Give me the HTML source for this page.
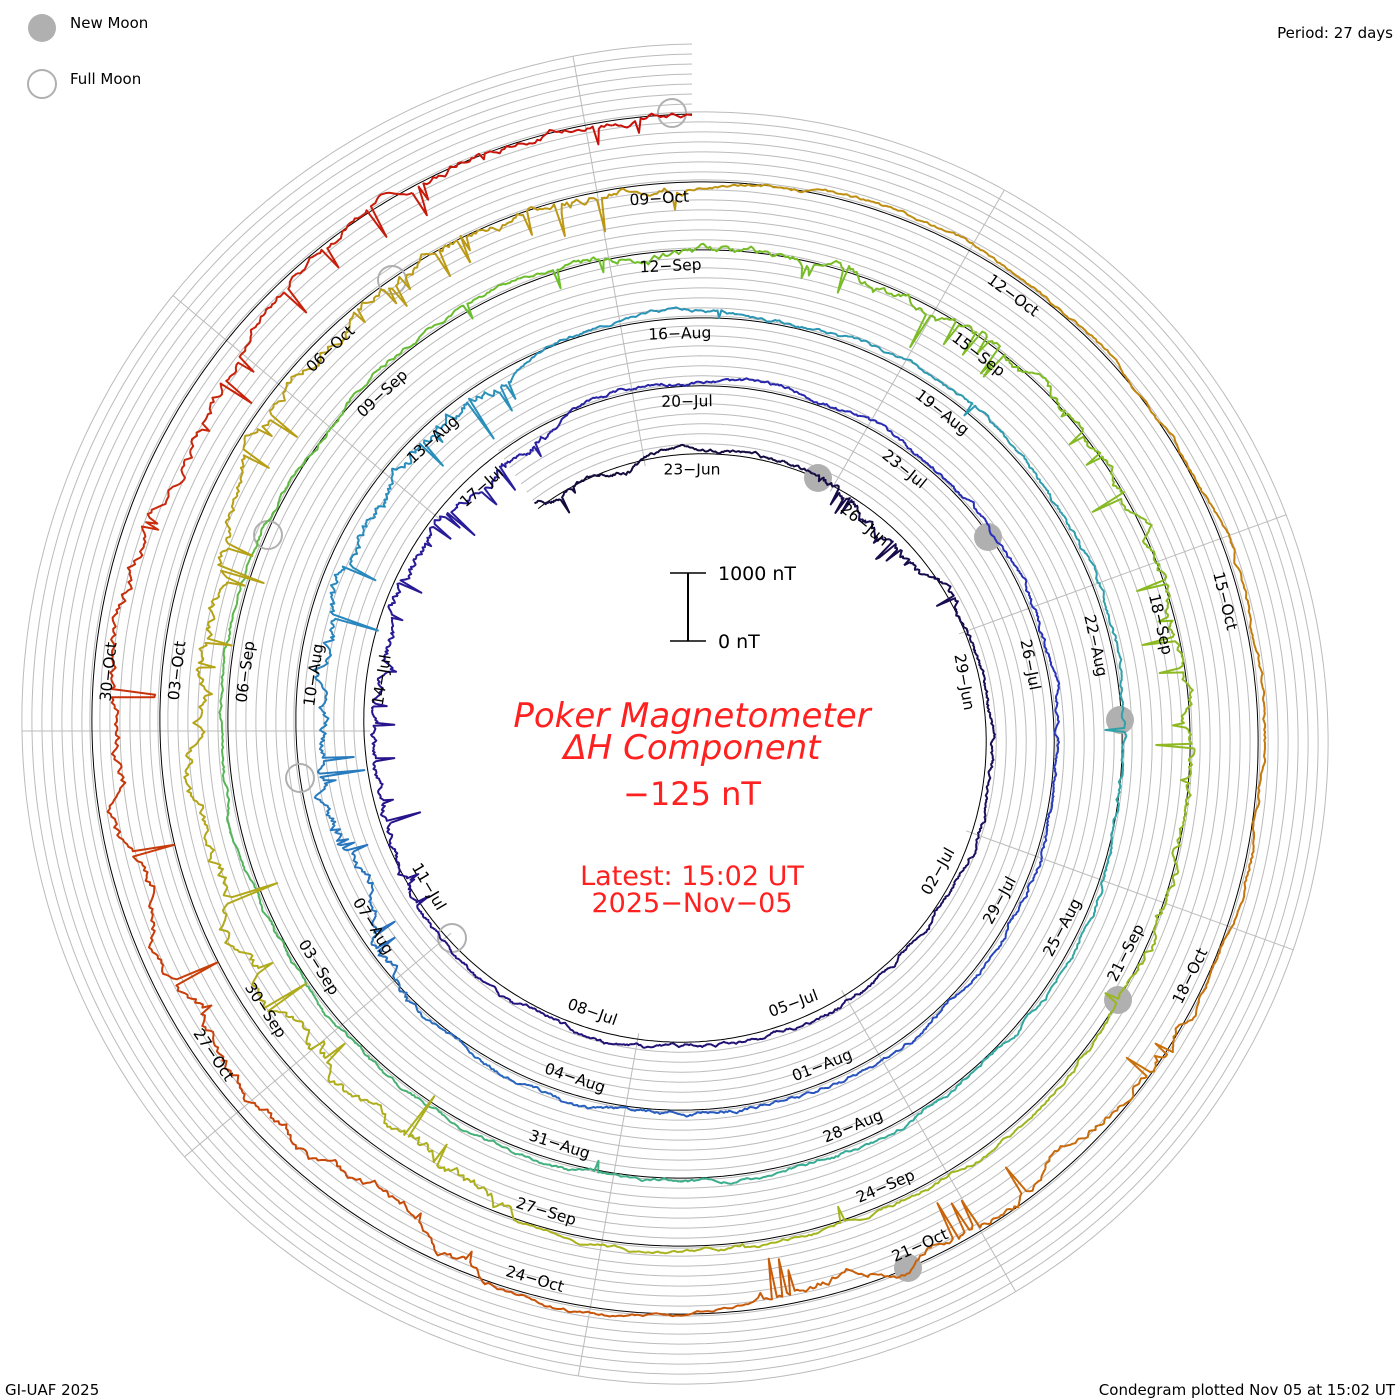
<!DOCTYPE html>
<html><head><meta charset="utf-8">
<style>
html,body{margin:0;padding:0;background:#fff;}
svg{display:block;}
text{font-family:"DejaVu Sans","Liberation Sans",sans-serif;}
</style></head>
<body>
<svg id="s" width="1400" height="1400" viewBox="0 0 1400 1400" xmlns="http://www.w3.org/2000/svg">
<g id="grid" fill="none" stroke="#bbb" stroke-width="1"></g>
<g id="base" fill="none" stroke="#000" stroke-width="1"></g>
<g id="moons"></g>
<g id="trace" fill="none" stroke-width="2" stroke-linejoin="round"></g>
<g id="labels" font-size="15.5" fill="#000"></g>
<circle cx="42" cy="28" r="14" fill="#b0b0b0"/>
<circle cx="42" cy="84" r="14" fill="none" stroke="#b0b0b0" stroke-width="2"/>
<text x="70" y="28" font-size="15">New Moon</text>
<text x="70" y="84" font-size="15">Full Moon</text>
<text x="1393" y="38" font-size="15" text-anchor="end">Period: 27 days</text>
<text x="5" y="1395" font-size="15">GI-UAF 2025</text>
<text x="1395" y="1395" font-size="15" text-anchor="end">Condegram plotted Nov 05 at 15:02 UT</text>
<line x1="688" y1="573" x2="688" y2="641" stroke="#000" stroke-width="2"/>
<line x1="670" y1="573" x2="706" y2="573" stroke="#000" stroke-width="1.5"/>
<line x1="670" y1="641" x2="706" y2="641" stroke="#000" stroke-width="1.5"/>
<text x="718" y="580" font-size="19">1000 nT</text>
<text x="718" y="648" font-size="19">0 nT</text>
<g fill="#ff2020" text-anchor="middle">
<text x="692" y="727" font-size="34" font-style="italic" font-family="Liberation Serif,serif">Poker Magnetometer</text>
<text x="692" y="759" font-size="34" font-style="italic" font-family="Liberation Serif,serif">ΔH Component</text>
<text x="692" y="805" font-size="32">−125 nT</text>
<text x="692" y="885" font-size="27">Latest: 15:02 UT</text>
<text x="692" y="912" font-size="27">2025−Nov−05</text>
</g>
</svg>
<script>
(function(){
var NS="http://www.w3.org/2000/svg";
var cx=692,cy=731,R0=277,K=68,P=27;
var t0=-2.6,t1=135.0;
function r(t){return R0+K*t/P;}
function ph(t){return 2*Math.PI*t/P;}
function pt(t,rr){var a=ph(t);return [cx+rr*Math.sin(a),cy-rr*Math.cos(a)];}
function el(g,n,at){var e=document.createElementNS(NS,n);for(var k in at)e.setAttribute(k,at[k]);document.getElementById(g).appendChild(e);return e;}
function spiral(off,ta,tb){var d="";for(var t=ta;t<=tb;t+=0.05){var p=pt(t,r(t)+off);d+=(d?"L":"M")+p[0].toFixed(1)+","+p[1].toFixed(1);}return d;}
for(var k=1;k<=7;k++)el("grid","path",{d:spiral(k*10,t0,t1)});
for(var j=0;j<9;j++){var phi=(-10+40*j)*Math.PI/180;var tt=phi/(2*Math.PI)*P;while(tt<t0)tt+=P;var ri=r(tt)-6;var te=tt;while(te+P<=t1)te+=P;var ro=r(te)+70;
el("grid","line",{x1:cx+ri*Math.sin(phi),y1:cy-ri*Math.cos(phi),x2:cx+ro*Math.sin(phi),y2:cy-ro*Math.cos(phi)});}
el("base","path",{d:spiral(0,t0,t1)});
var nm=[[818,478],[988,537],[1120,720],[1118,1000],[908,1268]],fm=[[672,113],[392,280],[268,535],[300,778],[452,938]];
nm.forEach(function(p){el("moons","circle",{cx:p[0],cy:p[1],r:14,fill:"#b0b0b0"});});
fm.forEach(function(p){el("moons","circle",{cx:p[0],cy:p[1],r:14,fill:"none",stroke:"#b0b0b0","stroke-width":2});});
var stops=[[0,[20,10,60]],[20,[40,20,140]],[33,[40,50,190]],[50,[40,140,190]],[65,[50,170,160]],[80,[110,190,40]],[95,[170,180,30]],[108,[190,150,20]],[118,[200,110,10]],[127,[200,60,10]],[136,[200,10,10]]];
function col(t){for(var i=0;i<stops.length-1;i++){if(t<=stops[i+1][0]){var a=stops[i],b=stops[i+1],f=Math.max(0,(t-a[0])/(b[0]-a[0]));return "rgb("+[0,1,2].map(function(c){return Math.round(a[1][c]+(b[1][c]-a[1][c])*f);}).join(",")+")";}}return "rgb(200,10,10)";}
var W=[[-2.6,-1,1.5,-5],[2,5,2.5,-5],[18,25,2.5,-10],[44,52,3.5,-20],[80,90,3,-3],[96,103,4,-30],[103,108,3,-3],[117,121,3,-8],[123,131,3.5,-20],[131,135.3,2.5,2]];
function ampAt(t){for(var i=0;i<W.length;i++){if(t>=W[i][0]&&t<=W[i][1])return W[i];}return null;}
var seed=98765;function rnd(){seed=(seed*1103515245+12345)%2147483648;return seed/2147483648;}
var dt=0.02,v=6,seg="",segStart=t0;
for(var t=t0;t<=t1;t+=dt){
 var w=ampAt(t);
 var amp=w?w[2]:1.2, mean=w?w[3]:5;
 v+=(rnd()-0.5)*amp*2-(v-mean)*0.05;
 var sp=0;
 if(w&&rnd()<0.05) sp=-rnd()*14*w[2];
 else if(rnd()<0.003) sp=-rnd()*20;
 var p=pt(t,r(t)+v+sp);
 var ss=p[0].toFixed(1)+","+p[1].toFixed(1);
 seg+=(seg?"L":"M")+ss;
 if(t-segStart>0.5){el("trace","path",{d:seg,stroke:col(t)});seg="M"+ss;segStart=t;}
}
if(seg)el("trace","path",{d:seg,stroke:col(t1)});
var mon=["Jan","Feb","Mar","Apr","May","Jun","Jul","Aug","Sep","Oct","Nov","Dec"];
var base=Date.UTC(2025,5,23);
for(var t=0;t<=130;t+=3){var d=new Date(base+t*864e5);var s=("0"+d.getUTCDate()).slice(-2)+"\u2212"+mon[d.getUTCMonth()];
 var tl=t-0.3*t/123;
 var p=pt(tl,r(t)-16);var deg=(360*tl/P)%360;var rot=(deg>90&&deg<=270)?deg-180:deg;if(rot>180)rot-=360;
 var e=el("labels","text",{x:p[0].toFixed(1),y:p[1].toFixed(1),"text-anchor":"middle","dominant-baseline":"middle",transform:"rotate("+rot.toFixed(1)+" "+p[0].toFixed(1)+" "+p[1].toFixed(1)+")"});e.textContent=s;}
})();
</script>
</body></html>
